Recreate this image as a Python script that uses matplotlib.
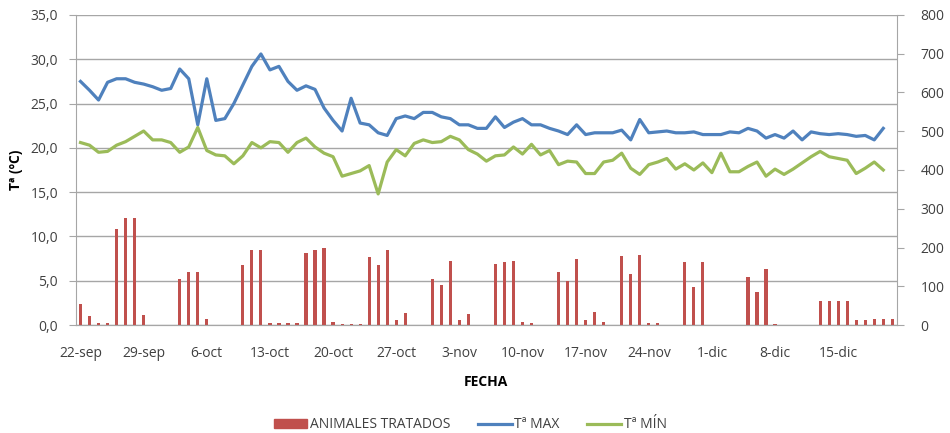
import matplotlib
matplotlib.use('Agg')
import matplotlib.pyplot as plt
from matplotlib.patches import Patch
from matplotlib.lines import Line2D
import numpy as np

# daily data, 22-sep .. 21-dic
t_max = [27.5, 26.5, 25.4, 27.4, 27.8, 27.8, 27.4, 27.2, 26.9, 26.5,
         26.7, 28.9, 27.8, 22.6, 27.8, 23.1, 23.3, 25.0, 27.1, 29.2,
         30.6, 28.8, 29.2, 27.5, 26.5, 27.0, 26.6, 24.5, 23.1, 21.9,
         25.6, 22.8, 22.6, 21.7, 21.4, 23.3, 23.6, 23.3, 24.0, 24.0,
         23.5, 23.3, 22.6, 22.6, 22.2, 22.2, 23.5, 22.3, 22.9, 23.3,
         22.6, 22.6, 22.2, 21.9, 21.5, 22.6, 21.5, 21.7, 21.7, 21.7,
         22.0, 20.9, 23.2, 21.7, 21.8, 21.9, 21.7, 21.7, 21.8, 21.5,
         21.5, 21.5, 21.8, 21.7, 22.2, 21.9, 21.1, 21.5, 21.1, 21.9,
         20.9, 21.8, 21.6, 21.5, 21.6, 21.5, 21.3, 21.4, 20.9, 22.2]

t_min = [20.6, 20.3, 19.5, 19.6, 20.3, 20.7, 21.3, 21.9, 20.9, 20.9,
         20.6, 19.5, 20.1, 22.3, 19.7, 19.2, 19.1, 18.2, 19.1, 20.6,
         20.0, 20.7, 20.6, 19.5, 20.6, 21.1, 20.1, 19.4, 19.0, 16.8,
         17.1, 17.4, 18.0, 14.8, 18.4, 19.8, 19.1, 20.5, 20.9, 20.6,
         20.7, 21.3, 20.9, 19.8, 19.3, 18.5, 19.1, 19.2, 20.1, 19.3,
         20.4, 19.2, 19.7, 18.1, 18.5, 18.4, 17.1, 17.1, 18.4, 18.6,
         19.4, 17.7, 17.0, 18.1, 18.4, 18.8, 17.6, 18.2, 17.5, 18.3,
         17.2, 19.4, 17.3, 17.3, 17.9, 18.4, 16.8, 17.6, 17.0, 17.6,
         18.3, 19.0, 19.6, 19.0, 18.8, 18.6, 17.1, 17.7, 18.4, 17.5]

animales = [53, 22, 4, 4, 249, 276, 276, 26, 0, 0,
            0, 120, 137, 137, 15, 0, 0, 0, 156, 193,
            193, 4, 4, 4, 4, 187, 193, 199, 9, 3,
            3, 3, 176, 155, 193, 12, 31, 0, 0, 119,
            102, 165, 12, 28, 0, 0, 158, 162, 165, 9,
            4, 0, 0, 137, 114, 171, 12, 34, 7, 0,
            177, 131, 180, 4, 4, 0, 0, 162, 98, 162,
            0, 0, 0, 0, 125, 84, 144, 3, 0, 0,
            0, 0, 62, 62, 62, 62, 12, 12, 15, 15, 15]

x_labels = ['22-sep', '29-sep', '6-oct', '13-oct', '20-oct', '27-oct', '3-nov',
            '10-nov', '17-nov', '24-nov', '1-dic', '8-dic', '15-dic']

c_bar = '#C0504D'
c_max = '#4F81BD'
c_min = '#9BBB59'
grid_c = '#A6A6A6'
txt_c = '#404040'

plt.rcParams['font.family'] = ['Open Sans', 'DejaVu Sans']

fig = plt.figure(figsize=(9.5, 4.33), dpi=100)
ax = fig.add_axes([0.080, 0.2494, 0.864, 0.7160])
ax2 = ax.twinx()

n = len(animales)
x_bar = np.arange(n)
x_line = np.arange(len(t_max))

ax.plot(x_line, t_max, color=c_max, lw=2.3, solid_joinstyle='round')
ax.plot(x_line, t_min, color=c_min, lw=2.3, solid_joinstyle='round')
ax2.bar(x_bar, animales, width=0.35, color=c_bar)

ax.set_xlim(-0.5, n - 0.5)
ax.set_ylim(0, 35)
ax2.set_ylim(0, 800)
left_ticks = np.arange(0, 36, 5)
ax.set_yticks(left_ticks)
ax.set_yticklabels([('%.1f' % v).replace('.', ',') for v in left_ticks])
ax2.set_yticks(np.arange(0, 801, 100))
ax.set_xticks(np.arange(0, n, 7)[:len(x_labels)])
ax.set_xticklabels(x_labels)

ax.grid(axis='y', color=grid_c, lw=1)
ax.set_axisbelow(True)
for a in (ax, ax2):
    for s in a.spines.values():
        s.set_visible(False)
    a.spines['bottom'].set_visible(True)
    a.spines['bottom'].set_color(grid_c)
ax.spines['left'].set_visible(True)
ax.spines['left'].set_color(grid_c)
ax2.spines['right'].set_visible(True)
ax2.spines['right'].set_color(grid_c)

ax.tick_params(axis='y', colors=grid_c, labelcolor=txt_c, labelsize=10, length=5, pad=8)
ax2.tick_params(axis='y', colors=grid_c, labelcolor=txt_c, labelsize=10, length=5, pad=12)
ax.tick_params(axis='x', length=0, labelcolor=txt_c, labelsize=10, pad=15)

ax.set_ylabel('Tª (ºC)', fontsize=10, fontweight='bold', color='black', labelpad=5)
ax.set_xlabel('FECHA', fontsize=10, fontweight='bold', color='black', labelpad=10)

handles = [Patch(color=c_bar), Line2D([], [], color=c_max, lw=2.3),
           Line2D([], [], color=c_min, lw=2.3)]
fig.legend(handles, ['ANIMALES TRATADOS', 'Tª MAX', 'Tª MÍN'], loc='center',
           bbox_to_anchor=(0.495, 0.0185), ncol=3, frameon=False, fontsize=10,
           handlelength=2.4, handleheight=0.6, handletextpad=0.2, columnspacing=2.0,
           labelcolor=txt_c, borderaxespad=0)

fig.savefig('out.png', dpi=100)
